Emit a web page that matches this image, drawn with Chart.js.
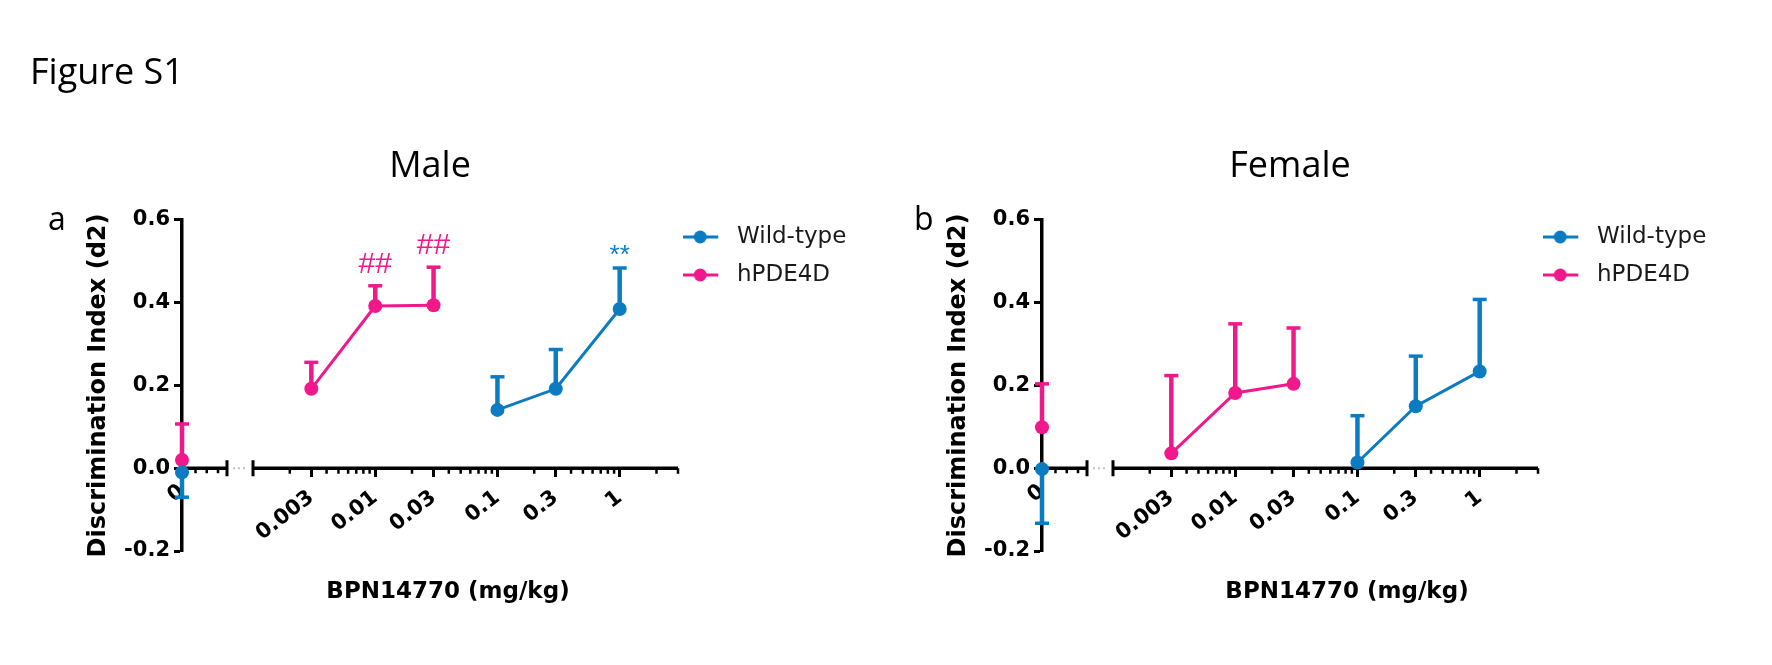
<!DOCTYPE html>
<html>
<head>
<meta charset="utf-8">
<title>Figure S1</title>
<script src="https://cdn.jsdelivr.net/npm/chart.js@4.4.1/dist/chart.umd.min.js"></script>
<style>
  html, body { margin: 0; padding: 0; background: #fff; }
  #figure { position: relative; width: 1772px; height: 665px; overflow: hidden; }
  #figure canvas { position: absolute; top: 0; }
  #male { left: 0; }
  #female { left: 860px; }
  .label { position: absolute; font-family: 'Open Sans', sans-serif; color: #000; white-space: nowrap; }
  .fig-title { left: 30px; top: 53px; font-size: 36px; line-height: 36px; }
  .panel-letter { top: 202px; font-size: 32px; line-height: 32px; }
</style>
</head>
<body>
<div id="figure">
  <canvas id="male" width="860" height="665"></canvas>
  <canvas id="female" width="880" height="665"></canvas>
  <div class="label fig-title">Figure S1</div>
  <div class="label panel-letter" style="left: 48px">a</div>
  <div class="label panel-letter" style="left: 914px">b</div>
</div>
<script>
const WT_COLOR = '#0b7cc2';
const HPDE4D_COLOR = '#f0188a';

// doses in mg/kg
const WT_DOSES = [0.1, 0.3, 1];
const HPDE4D_DOSES = [0.003, 0.01, 0.03];
const VEHICLE_DOSE = 0;

const LOG_TICK_VALUES = [0.003, 0.01, 0.03, 0.1, 0.3, 1];
const LOG_TICK_LABELS = ['0.003', '0.01', '0.03', '0.1', '0.3', '1'];
const VEHICLE_TICK_LABEL = '0';

// Male: mean and SEM of the discrimination index
const MALE_WT_MEAN = [0.141, 0.192, 0.385];
const MALE_WT_SEM = [0.080, 0.095, 0.099];
const MALE_HPDE4D_MEAN = [0.192, 0.392, 0.394];
const MALE_HPDE4D_SEM = [0.064, 0.049, 0.092];
// vehicle group (0 mg/kg): [wild-type, hPDE4D]
const MALE_VEHICLE_MEAN = [-0.010, 0.020];
const MALE_VEHICLE_SEM = [0.060, 0.087];
const MALE_WT_MARKS = ['', '', '**'];
const MALE_HPDE4D_MARKS = ['', '##', '##'];

// Female
const FEMALE_WT_MEAN = [0.014, 0.150, 0.234];
const FEMALE_WT_SEM = [0.113, 0.121, 0.174];
const FEMALE_HPDE4D_MEAN = [0.036, 0.182, 0.204];
const FEMALE_HPDE4D_SEM = [0.188, 0.167, 0.135];
const FEMALE_VEHICLE_MEAN = [-0.002, 0.099];
const FEMALE_VEHICLE_SEM = [0.131, 0.105];
const FEMALE_WT_MARKS = ['', '', ''];
const FEMALE_HPDE4D_MARKS = ['', '', ''];

const X_TITLE = 'BPN14770 (mg/kg)';
const Y_TITLE = 'Discrimination Index (d2)';

// plot frame inside each canvas, in px
const PLOT_LEFT = 182;
const ZERO_END = 227; // end of the "0" stub of the x axis
const LOG_START = 253; // start of the log part of the x axis
const PLOT_RIGHT = 678;
const LEGEND_WIDTH = 176;
const Y_TITLE_X = 98.5;
const LOG_MIN = 0.001;
const LOG_MAX = 3;

const TICK_FONT = { family: 'DejaVu Sans', size: 21, weight: 'bold' };
const X_TITLE_FONT = { family: 'DejaVu Sans', size: 23, weight: 'bold', lineHeight: 1.2 };
const Y_TITLE_FONT = { family: 'DejaVu Sans', size: 24, weight: 'bold', lineHeight: 1.2 };
const LEGEND_FONT = { family: 'DejaVu Sans', size: 23 };

Chart.defaults.font.family = 'DejaVu Sans';
Chart.defaults.color = '#000';

// Both x scales sit on y = 0 and span the whole plot width, so their ranges
// are widened to put the 0 stub and the 0.001..3 decades where they belong.
const plotWidth = PLOT_RIGHT - PLOT_LEFT;
const zeroAxisMax = plotWidth / (ZERO_END - PLOT_LEFT);
const logFrac = (LOG_START - PLOT_LEFT) / plotWidth;
const logAxisMin = Math.pow(10, (Math.log10(LOG_MIN) - logFrac * Math.log10(LOG_MAX)) / (1 - logFrac));

const MINOR_LOG_TICKS = [];
[0.001, 0.01, 0.1, 1].forEach((decade) => {
  for (let m = 2; m <= 9; m++) {
    const v = +(decade * m).toPrecision(3);
    if (v <= LOG_MAX && !LOG_TICK_VALUES.includes(v)) MINOR_LOG_TICKS.push(v);
  }
});
const ZERO_STUB_TICKS = [0.3, 0.55, 0.8];

// legend icon: a short line with the symbol, like the GraphPad legend
function legendIcon(color) {
  const c = document.createElement('canvas');
  c.width = 52;
  c.height = 16;
  const ctx = c.getContext('2d');
  ctx.strokeStyle = color;
  ctx.lineWidth = 3;
  ctx.beginPath();
  ctx.moveTo(0, 8);
  ctx.lineTo(35, 8);
  ctx.stroke();
  ctx.fillStyle = color;
  ctx.beginPath();
  ctx.arc(17, 8, 6.5, 0, Math.PI * 2);
  ctx.fill();
  return c;
}
const LEGEND_ICONS = [legendIcon(WT_COLOR), legendIcon(HPDE4D_COLOR)];

const brokenAxis = {
  id: 'brokenAxis',
  beforeDatasetsDraw(chart) {
    const { ctx } = chart;
    const { x0, xlog, y } = chart.scales;
    const yZero = y.getPixelForValue(0);
    const stubStart = x0.getPixelForValue(0);
    const stubEnd = x0.getPixelForValue(1);
    const logStart = xlog.getPixelForValue(LOG_MIN);
    const logEnd = xlog.getPixelForValue(LOG_MAX);

    ctx.save();
    ctx.strokeStyle = '#000';
    ctx.lineWidth = 3.5;
    ctx.beginPath();
    ctx.moveTo(stubStart, yZero);
    ctx.lineTo(stubEnd, yZero);
    ctx.moveTo(logStart, yZero);
    ctx.lineTo(logEnd, yZero);
    ctx.stroke();

    // break marks on both sides of the gap
    ctx.lineWidth = 3;
    ctx.beginPath();
    [stubEnd, logStart].forEach((px) => {
      ctx.moveTo(px, yZero - 8);
      ctx.lineTo(px, yZero + 8);
    });
    ctx.stroke();

    ctx.lineWidth = 2.5;
    ctx.beginPath();
    MINOR_LOG_TICKS.forEach((v) => {
      const px = xlog.getPixelForValue(v);
      ctx.moveTo(px, yZero);
      ctx.lineTo(px, yZero + 5.5);
    });
    ZERO_STUB_TICKS.forEach((v) => {
      const px = x0.getPixelForValue(v);
      ctx.moveTo(px, yZero);
      ctx.lineTo(px, yZero + 5);
    });
    ctx.stroke();

    ctx.strokeStyle = '#c4c4c4';
    ctx.lineWidth = 2;
    ctx.setLineDash([2, 3]);
    ctx.beginPath();
    ctx.moveTo(stubEnd + 6, yZero);
    ctx.lineTo(logStart - 5, yZero);
    ctx.stroke();
    ctx.restore();
  },
};

// one-sided SEM bars (direction follows the sign of the mean) and the significance marks
const errorBars = {
  id: 'errorBars',
  _barEnd(ds, j, yScale) {
    const mean = ds.data[j].y;
    return yScale.getPixelForValue(mean < 0 ? mean - ds.sem[j] : mean + ds.sem[j]);
  },
  beforeDatasetsDraw(chart) {
    const { ctx } = chart;
    const yScale = chart.scales.y;
    chart.data.datasets.forEach((ds, i) => {
      const meta = chart.getDatasetMeta(i);
      ctx.save();
      ctx.strokeStyle = ds.borderColor;
      meta.data.forEach((pt, j) => {
        const yEnd = this._barEnd(ds, j, yScale);
        ctx.lineWidth = 4.5;
        ctx.beginPath();
        ctx.moveTo(pt.x, pt.y);
        ctx.lineTo(pt.x, yEnd);
        ctx.stroke();
        ctx.lineWidth = 3.5;
        ctx.beginPath();
        ctx.moveTo(pt.x - 7, yEnd);
        ctx.lineTo(pt.x + 7, yEnd);
        ctx.stroke();
      });
      ctx.restore();
    });
  },
  afterDatasetsDraw(chart) {
    const { ctx } = chart;
    const yScale = chart.scales.y;
    chart.data.datasets.forEach((ds, i) => {
      if (!ds.marks) return;
      const meta = chart.getDatasetMeta(i);
      ctx.save();
      ctx.fillStyle = ds.borderColor;
      ctx.textAlign = 'center';
      ctx.textBaseline = 'alphabetic';
      meta.data.forEach((pt, j) => {
        const text = ds.marks[j];
        if (!text) return;
        ctx.font = `${text[0] === '#' ? 30 : 26}px "Liberation Sans"`;
        const m = ctx.measureText(text);
        ctx.fillText(text, pt.x, this._barEnd(ds, j, yScale) - 13 - m.actualBoundingBoxDescent);
      });
      ctx.restore();
    });
  },
};

function points(doses, means) {
  return doses.map((x, i) => ({ x, y: means[i] }));
}

function series(label, color, data, sem, marks, xAxisID, showLine) {
  return {
    label,
    data,
    sem,
    marks,
    xAxisID,
    yAxisID: 'y',
    showLine,
    borderColor: color,
    backgroundColor: color,
    borderWidth: 3,
    pointStyle: 'circle',
    pointRadius: 7,
    pointHoverRadius: 7,
    pointBorderWidth: 0,
    pointBackgroundColor: color,
    clip: false,
  };
}

function makeConfig(p) {
  const canvasWidth = p.canvasWidth;
  const xTickOptions = { font: TICK_FONT, color: '#000', minRotation: 38, maxRotation: 38, autoSkip: false };
  const xGrid = { drawOnChartArea: false, tickLength: 9, tickWidth: 3, tickColor: '#000' };

  return {
    type: 'line',
    data: {
      datasets: [
        series('Wild-type', WT_COLOR, points(WT_DOSES, p.wtMean), p.wtSem, p.wtMarks, 'xlog', true),
        series('hPDE4D', HPDE4D_COLOR, points(HPDE4D_DOSES, p.hpdeMean), p.hpdeSem, p.hpdeMarks, 'xlog', true),
        series('Wild-type vehicle', WT_COLOR, [{ x: VEHICLE_DOSE, y: p.vehicleMean[0] }], [p.vehicleSem[0]], null, 'x0', false),
        series('hPDE4D vehicle', HPDE4D_COLOR, [{ x: VEHICLE_DOSE, y: p.vehicleMean[1] }], [p.vehicleSem[1]], null, 'x0', false),
      ],
    },
    options: {
      responsive: false,
      animation: false,
      events: [],
      layout: {
        padding: { top: 0, left: p.paddingLeft, right: canvasWidth - PLOT_RIGHT - LEGEND_WIDTH, bottom: 0 },
      },
      scales: {
        y: {
          type: 'linear',
          position: 'left',
          min: -0.2,
          max: 0.6,
          ticks: {
            stepSize: 0.2,
            font: TICK_FONT,
            color: '#000',
            padding: 4,
            callback: (v) => (Math.abs(v) < 1e-9 ? 0 : v).toFixed(1),
          },
          grid: { drawOnChartArea: false, tickLength: 8, tickWidth: 3, tickColor: '#000' },
          border: { color: '#000', width: 3.5 },
          title: {
            display: true,
            text: Y_TITLE,
            font: Y_TITLE_FONT,
            color: '#000',
            // may go negative: the axis box starts right of where the title sits
            padding: { top: Y_TITLE_X - p.paddingLeft - (Y_TITLE_FONT.size * 1.2) / 2, bottom: 0 },
          },
          afterFit: (scale) => {
            scale.width = PLOT_LEFT - p.paddingLeft;
          },
        },
        x0: {
          type: 'linear',
          axis: 'x',
          position: { y: 0 },
          min: 0,
          max: zeroAxisMax,
          afterBuildTicks: (scale) => {
            scale.ticks = [{ value: VEHICLE_DOSE }];
          },
          afterFit: (scale) => {
            scale.height = 0;
          },
          ticks: { ...xTickOptions, padding: 2, callback: () => VEHICLE_TICK_LABEL },
          grid: xGrid,
          border: { display: false },
        },
        xlog: {
          type: 'logarithmic',
          axis: 'x',
          position: { y: 0 },
          min: logAxisMin,
          max: LOG_MAX,
          afterBuildTicks: (scale) => {
            scale.ticks = LOG_TICK_VALUES.map((value) => ({ value }));
          },
          afterFit: (scale) => {
            scale.height = 0;
          },
          ticks: { ...xTickOptions, padding: 8, callback: (value, index) => LOG_TICK_LABELS[index] },
          grid: xGrid,
          border: { display: false },
        },
      },
      plugins: {
        title: {
          display: true,
          text: p.title,
          fullSize: false,
          color: '#000',
          font: { family: 'Open Sans', size: 36, weight: 'normal', lineHeight: 1.2 },
          padding: { top: 144.7, bottom: 32.1 },
        },
        subtitle: {
          display: true,
          text: X_TITLE,
          position: 'bottom',
          fullSize: true,
          color: '#000',
          font: X_TITLE_FONT,
          padding: { top: 27.2, bottom: 59.2 },
        },
        legend: {
          position: 'right',
          align: 'start',
          fullSize: false,
          maxWidth: LEGEND_WIDTH,
          // empty title with negative padding pulls the rows up to the top of the plot
          title: { display: true, text: '', font: { size: 10, lineHeight: 1 }, padding: { top: -19.5, bottom: 0 } },
          labels: {
            usePointStyle: true,
            pointStyleWidth: 32.5,
            padding: 15,
            color: '#1a1a1a',
            font: LEGEND_FONT,
            filter: (item) => item.datasetIndex < 2,
            generateLabels: (chart) =>
              Chart.defaults.plugins.legend.labels.generateLabels(chart).map((item) => ({
                ...item,
                pointStyle: LEGEND_ICONS[item.datasetIndex] || item.pointStyle,
              })),
          },
        },
        tooltip: { enabled: false },
      },
    },
    plugins: [brokenAxis, errorBars],
  };
}

const PANELS = [
  {
    id: 'male',
    title: 'Male',
    canvasWidth: 860,
    paddingLeft: 42,
    wtMean: MALE_WT_MEAN,
    wtSem: MALE_WT_SEM,
    wtMarks: MALE_WT_MARKS,
    hpdeMean: MALE_HPDE4D_MEAN,
    hpdeSem: MALE_HPDE4D_SEM,
    hpdeMarks: MALE_HPDE4D_MARKS,
    vehicleMean: MALE_VEHICLE_MEAN,
    vehicleSem: MALE_VEHICLE_SEM,
  },
  {
    id: 'female',
    title: 'Female',
    canvasWidth: 880,
    paddingLeft: 120,
    wtMean: FEMALE_WT_MEAN,
    wtSem: FEMALE_WT_SEM,
    wtMarks: FEMALE_WT_MARKS,
    hpdeMean: FEMALE_HPDE4D_MEAN,
    hpdeSem: FEMALE_HPDE4D_SEM,
    hpdeMarks: FEMALE_HPDE4D_MARKS,
    vehicleMean: FEMALE_VEHICLE_MEAN,
    vehicleSem: FEMALE_VEHICLE_SEM,
  },
];

PANELS.forEach((p) => new Chart(document.getElementById(p.id), makeConfig(p)));
</script>
</body>
</html>
